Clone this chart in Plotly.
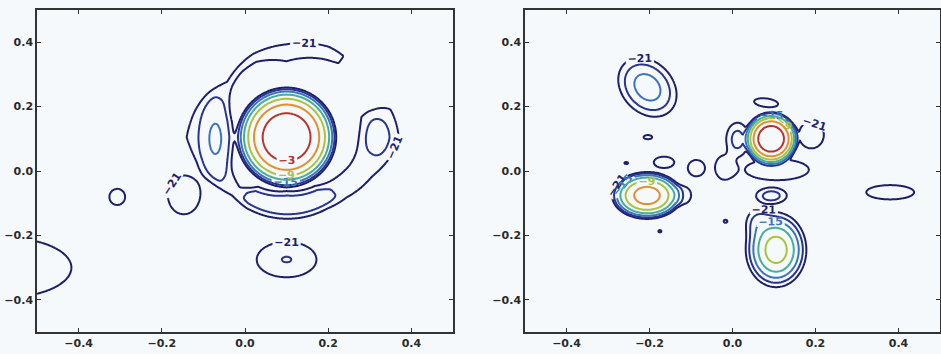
import numpy as np
import plotly.graph_objects as go

# ---------------- data ----------------
LEVELS = [-21, -18, -15, -12, -9, -6, -3]
LEVEL_COLORS = ['#1d1f6b', '#28348f', '#3a74bd', '#45ad9c', '#a9c43c', '#e38f2e', '#b9332b']
LABELED_LEVELS = [-21, -15, -9, -3]
TICK_VALUES = [-0.4, -0.2, 0.0, 0.2, 0.4]
AXIS_RANGE = [-0.5, 0.5]
FLOOR_DB = -40.0

# main beams (first lobe): centre x, centre y, null radius x, null radius y, peak dB
LEFT_MAIN_X = [0.100]
LEFT_MAIN_Y = [0.105]
LEFT_MAIN_RX = [0.130]
LEFT_MAIN_RY = [0.168]
LEFT_MAIN_DB = [0.0]

RIGHT_MAIN_X = [0.093, -0.206]
RIGHT_MAIN_Y = [0.100, -0.076]
RIGHT_MAIN_RX = [0.070, 0.097]
RIGHT_MAIN_RY = [0.090, 0.084]
RIGHT_MAIN_DB = [0.0, -4.5]

# side-lobe ring round the left main beam (angle in deg, radius and width in beam units, level dB)
RING_ANGLE = [-180, -165, -150, -133, -120, -90, -60, -45, -25, 0, 15, 30, 45, 55, 65, 90, 112, 125, 137, 150, 165, 180]
RING_RADIUS = [1.45, 1.40, 1.39, 1.37, 1.28, 1.25, 1.28, 1.36, 1.50, 1.72, 1.72, 1.70, 1.75, 1.75, 1.72, 1.56, 1.58, 1.52, 1.44, 1.44, 1.44, 1.45]
RING_WIDTH = [0.42, 0.30, 0.20, 0.10, 0.20, 0.22, 0.21, 0.20, 0.25, 0.35, 0.30, 0.20, 0.14, 0.14, 0.15, 0.18, 0.10, 0.08, 0.08, 0.20, 0.33, 0.42]
RING_DB = [-19.4, -19.4, -19.3, -18.6, -17.6, -17.2, -17.4, -18.3, -19.5, -19.6, -20.5, -35.0, -35.0, -20.8, -20.0, -19.8, -20.2, -20.4, -20.4, -19.5, -19.4, -19.4]

# side lobes: centre x, centre y, spread x, spread y, peak dB, tilt (deg), profile power
LEFT_LOBE_X = [-0.071, 0.317, -0.307, -0.147, 0.100, -0.580]
LEFT_LOBE_Y = [0.100, 0.112, -0.080, -0.074, -0.275, -0.300]
LEFT_LOBE_SX = [0.022, 0.026, 0.025, 0.046, 0.060, 0.150]
LEFT_LOBE_SY = [0.070, 0.050, 0.033, 0.072, 0.046, 0.086]
LEFT_LOBE_DB = [-16.0, -19.8, -20.4, -20.0, -17.95, -18.5]
LEFT_LOBE_TILT = [0, 0, 0, 0, 0, 0]
LEFT_LOBE_POW = [2, 2, 4, 4, 2, 2]

RIGHT_LOBE_X = [0.081, 0.190, 0.012, 0.107, 0.094, -0.120, 0.105, 0.062, -0.205, 0.380, -0.087, -0.019, -0.165, -0.256, -0.204, -0.175, -0.017]
RIGHT_LOBE_Y = [0.212, 0.112, 0.098, 0.004, -0.076, -0.075, -0.245, -0.160, 0.260, -0.066, 0.009, 0.011, 0.027, 0.025, 0.105, -0.187, -0.156]
RIGHT_LOBE_SX = [0.035, 0.036, 0.0245, 0.085, 0.033, 0.022, 0.029, 0.020, 0.035, 0.075, 0.026, 0.026, 0.032, 0.008, 0.014, 0.007, 0.008]
RIGHT_LOBE_SY = [0.016, 0.050, 0.047, 0.036, 0.022, 0.030, 0.046, 0.030, 0.051, 0.029, 0.032, 0.043, 0.023, 0.006, 0.009, 0.007, 0.008]
RIGHT_LOBE_DB = [-20.0, -20.0, -17.8, -19.6, -17.8, -19.5, -7.3, -17.5, -13.5, -20.3, -20.2, -19.8, -20.3, -20.8, -20.5, -20.8, -20.8]
RIGHT_LOBE_TILT = [-10, 0, 0, 0, 0, 0, 0, 0, 22, 0, 0, 0, 0, 0, 0, 0, 0]
RIGHT_LOBE_POW = [4, 4, 4, 4, 4, 4, 2, 2, 2, 4, 4, 4, 4, 4, 4, 4, 4]

# ---------------- build the fields ----------------
grid = np.linspace(AXIS_RANGE[0], AXIS_RANGE[1], 401)
GX, GY = np.meshgrid(grid, grid)


def power_of(mains, lobes, ring=None):
    p = np.full(GX.shape, 10 ** (FLOOR_DB / 10))
    for x0, y0, rx, ry, db in zip(*mains):
        r = np.sqrt(((GX - x0) / rx) ** 2 + ((GY - y0) / ry) ** 2)
        p += np.where(r < 1, np.sinc(r) ** 2, 0.0) * 10 ** (db / 10)
    for x0, y0, sx, sy, db, t, pw in zip(*lobes):
        th = np.deg2rad(t)
        dx, dy = GX - x0, GY - y0
        u = np.cos(th) * dx + np.sin(th) * dy
        v = -np.sin(th) * dx + np.cos(th) * dy
        d = np.sqrt((u / sx) ** 2 + (v / sy) ** 2)
        p += 10 ** (db / 10) * np.exp(-0.5 * d ** pw)
    if ring is not None:
        x0, y0, rx, ry, ang, rad, wid, rdb = ring
        u, v = (GX - x0) / rx, (GY - y0) / ry
        r = np.sqrt(u ** 2 + v ** 2)
        th = np.degrees(np.arctan2(v, u))
        R = np.interp(th, ang, rad)
        Wd = np.interp(th, ang, wid)
        D = np.interp(th, ang, rdb)
        p += 10 ** (D / 10) * np.exp(-0.5 * ((r - R) / Wd) ** 4)
    return 10 * np.log10(p)


Z_LEFT = power_of(
    (LEFT_MAIN_X, LEFT_MAIN_Y, LEFT_MAIN_RX, LEFT_MAIN_RY, LEFT_MAIN_DB),
    (LEFT_LOBE_X, LEFT_LOBE_Y, LEFT_LOBE_SX, LEFT_LOBE_SY, LEFT_LOBE_DB, LEFT_LOBE_TILT, LEFT_LOBE_POW),
    (LEFT_MAIN_X[0], LEFT_MAIN_Y[0], LEFT_MAIN_RX[0], LEFT_MAIN_RY[0],
     RING_ANGLE, RING_RADIUS, RING_WIDTH, RING_DB))
Z_RIGHT = power_of(
    (RIGHT_MAIN_X, RIGHT_MAIN_Y, RIGHT_MAIN_RX, RIGHT_MAIN_RY, RIGHT_MAIN_DB),
    (RIGHT_LOBE_X, RIGHT_LOBE_Y, RIGHT_LOBE_SX, RIGHT_LOBE_SY, RIGHT_LOBE_DB, RIGHT_LOBE_TILT, RIGHT_LOBE_POW))

fig = go.Figure()
for zz, xa, ya in [(Z_LEFT, 'x', 'y'), (Z_RIGHT, 'x2', 'y2')]:
    for lev, col in zip(LEVELS, LEVEL_COLORS):
        fig.add_trace(go.Contour(
            x=grid, y=grid, z=zz, xaxis=xa, yaxis=ya,
            autocontour=False,
            contours=dict(start=lev, end=lev, size=3, coloring='none',
                          showlabels=lev in LABELED_LEVELS,
                          labelfont=dict(family='DejaVu Sans', size=11, color=col, weight='bold')),
            line=dict(color=col, width=2, smoothing=1.0),
            showscale=False, hoverinfo='skip', showlegend=False,
        ))

W, H = 941, 354
ydom = [(H - 332) / H, (H - 10) / H]
axis_common = dict(range=AXIS_RANGE, tickvals=TICK_VALUES, tickformat='.1f',
                   showgrid=False, zeroline=False, showline=True, mirror='ticks',
                   linecolor='#333333', linewidth=1.5, ticks='inside', ticklen=4,
                   tickcolor='#333333', tickwidth=1,
                   tickfont=dict(family='DejaVu Sans', size=11, color='#2a2a2a', weight='bold'))
fig.update_layout(
    width=W, height=H, margin=dict(l=0, r=0, t=0, b=0),
    paper_bgcolor='#f6f9fb', plot_bgcolor='#f6f9fb',
    xaxis=dict(domain=[37 / W, 453 / W], anchor='y', **axis_common),
    yaxis=dict(domain=ydom, anchor='x', **axis_common),
    xaxis2=dict(domain=[525 / W, 940 / W], anchor='y2', **axis_common),
    yaxis2=dict(domain=ydom, anchor='x2', **axis_common),
)
fig.write_html('out.html')
